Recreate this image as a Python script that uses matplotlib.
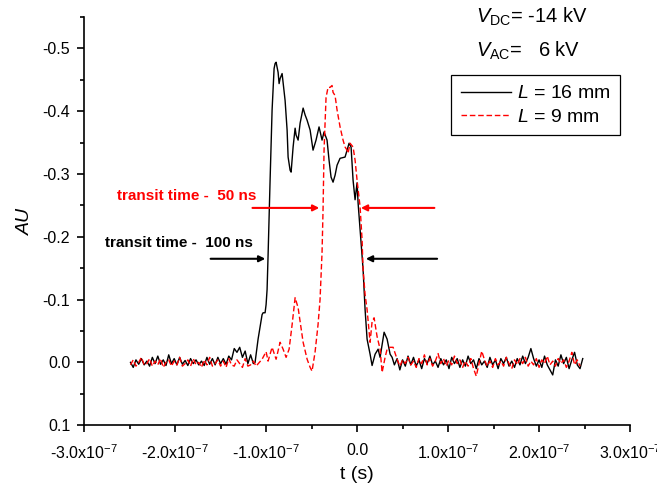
import numpy as np
import matplotlib
matplotlib.use('Agg')
import matplotlib.pyplot as plt
from matplotlib.ticker import MultipleLocator, FuncFormatter

plt.rcParams['font.family'] = 'Liberation Sans'
plt.rcParams['axes.unicode_minus'] = False
plt.rcParams['mathtext.fontset'] = 'custom'
plt.rcParams['mathtext.rm'] = 'Liberation Sans'
plt.rcParams['mathtext.it'] = 'Liberation Sans:italic'

# L = 16 mm (black), time in ns
blk_pre_t = np.arange(-249, -113, 3)
blk_pre_v = [0.000, 0.008, -0.004, 0.003, -0.006, 0.004, -0.002, 0.006, -0.008, 0.002,
             -0.010, 0.003, -0.004, 0.005, -0.012, 0.002, -0.006, 0.004, -0.008, 0.003,
             -0.003, 0.005, -0.006, 0.002, -0.004, 0.004, -0.002, 0.005, -0.008, 0.003,
             -0.006, 0.004, -0.008, 0.002, -0.006, 0.003, -0.010, -0.004, -0.022, -0.016,
             -0.024, -0.008, -0.018, 0.002, -0.012, 0.002]
blk_pulse_t = [-112.1, -108.8, -106.6, -104.4, -103.3, -101.1, -100.0, -98.9, -97.8, -95.6,
               -93.4, -91.2, -90.1, -89.0, -86.8, -85.7, -84.6, -82.4, -79.1, -76.9,
               -75.8, -73.6, -72.5, -70.3, -68.1, -67.0, -64.8, -62.6, -59.3, -57.1,
               -55.0, -51.6, -48.4, -45.1, -41.8, -38.5, -36.3, -33.0, -30.8, -28.6,
               -26.4, -24.2, -22.0, -18.7, -13.2, -11.0, -8.8, -6.6, -4.4, -2.2,
               0.0, 1.1, 4.4, 6.6, 8.8, 11.0, 14.3, 16.5, 19.8, 23.1,
               25.3, 29.7, 33.0, 36.3, 38.5]
blk_pulse_v = [0.000, -0.037, -0.057, -0.076, -0.079, -0.079, -0.092, -0.116, -0.171, -0.290,
               -0.402, -0.468, -0.476, -0.478, -0.462, -0.444, -0.452, -0.460, -0.417, -0.370,
               -0.327, -0.306, -0.303, -0.343, -0.373, -0.362, -0.354, -0.381, -0.405, -0.394,
               -0.386, -0.370, -0.338, -0.354, -0.375, -0.354, -0.367, -0.354, -0.322, -0.295,
               -0.287, -0.298, -0.314, -0.325, -0.327, -0.338, -0.349, -0.343, -0.290, -0.259,
               -0.286, -0.254, -0.190, -0.148, -0.084, -0.037, -0.013, 0.005, -0.013, -0.021,
               -0.008, -0.048, -0.037, -0.013, -0.008]
blk_post_t = np.arange(41, 249, 3)
blk_post_v = [0.004, -0.006, 0.012, -0.004, 0.006, -0.010, 0.004, -0.008, 0.006, -0.004,
              0.010, -0.006, 0.002, -0.010, 0.004, -0.002, 0.008, -0.006, 0.004, -0.004,
              0.010, -0.008, 0.002, -0.006, 0.008, -0.004, 0.006, -0.010, 0.002, -0.004,
              0.010, -0.006, 0.004, -0.002, 0.008, -0.008, 0.004, -0.004, 0.010, -0.006,
              0.002, -0.008, 0.006, -0.002, 0.008, -0.006, 0.004, -0.010, 0.002, -0.008,
              -0.022, -0.006, 0.006, -0.004, 0.008, -0.010, 0.004, 0.012, 0.020, -0.004,
              0.006, -0.012, 0.002, -0.008, 0.010, -0.004, -0.016, 0.004, 0.010, -0.006]

# L = 9 mm (red dashed)
red_pre_t = np.arange(-249, -110, 3)
red_pre_v = [0.004, -0.004, 0.006, 0.000, -0.008, 0.004, 0.002, -0.006, 0.006, -0.002,
             0.004, -0.006, 0.008, 0.000, -0.004, 0.006, -0.002, 0.004, -0.008, 0.006,
             0.002, -0.004, 0.006, -0.006, 0.004, 0.000, 0.008, -0.004, 0.004, -0.008,
             0.006, 0.002, -0.004, 0.006, -0.002, 0.008, -0.006, 0.004, 0.006, -0.004,
             0.002, 0.008, -0.006, 0.006, 0.004, -0.002, 0.006]
red_pulse_t = [-104.4, -100.0, -97.8, -93.4, -89.0, -84.6, -81.3, -78.0, -74.7, -71.4,
               -68.1, -64.8, -62.6, -59.3, -54.9, -51.6, -49.5, -46.2, -42.9, -40.7,
               -38.5, -37.4, -36.3, -34.1, -31.9, -29.7, -27.5, -26.4, -24.2, -22.0,
               -18.7, -15.4, -13.2, -11.0, -9.9, -7.7, -4.4, -2.2, 0.0, 3.3,
               5.5, 6.6, 8.8, 11.0, 14.3, 16.5, 18.7, 22.0, 25.3, 27.5,
               30.8, 33.0, 36.3, 39.6, 44.0]
red_pulse_v = [-0.005, -0.017, -0.002, -0.024, -0.005, -0.032, -0.021, -0.008, -0.021, -0.060,
               -0.103, -0.087, -0.065, -0.032, -0.005, 0.008, 0.014, -0.016, -0.060, -0.100,
               -0.175, -0.243, -0.338, -0.422, -0.438, -0.438, -0.441, -0.430, -0.425, -0.402,
               -0.375, -0.354, -0.343, -0.338, -0.333, -0.349, -0.343, -0.322, -0.290, -0.248,
               -0.195, -0.148, -0.108, -0.084, -0.032, -0.065, -0.071, -0.041, -0.021, 0.016,
               -0.008, -0.021, -0.024, -0.024, -0.005]
red_post_t = np.arange(47, 246, 3)
red_post_v = [0.006, -0.004, 0.002, -0.008, 0.004, -0.002, 0.008, -0.006, 0.002, -0.012,
              0.004, -0.006, 0.006, -0.002, -0.014, 0.002, -0.006, 0.006, -0.004, 0.004,
              -0.010, 0.002, -0.004, 0.008, -0.002, 0.006, -0.006, 0.010, 0.022, 0.002,
              -0.018, -0.004, 0.006, -0.002, 0.008, -0.006, 0.004, -0.002, 0.006, -0.008,
              0.002, 0.010, -0.004, 0.004, -0.006, 0.002, -0.008, 0.006, -0.002, 0.004,
              -0.006, 0.008, -0.004, 0.002, -0.010, 0.004, -0.002, 0.006, -0.006, 0.002,
              -0.004, 0.008, -0.002, -0.016, 0.004, -0.004, 0.006]

t16 = np.concatenate([blk_pre_t, blk_pulse_t, blk_post_t]) * 1e-9
v16 = np.concatenate([blk_pre_v, blk_pulse_v, blk_post_v])
t9 = np.concatenate([red_pre_t, red_pulse_t, red_post_t]) * 1e-9
v9 = np.concatenate([red_pre_v, red_pulse_v, red_post_v])

fig = plt.figure(figsize=(6.57, 4.87), dpi=100)
ax = fig.add_axes([0.128, 0.127, 0.831, 0.838])

ax.plot(t16, v16, '-', color='black', lw=1.0, label='$L$ = 16 mm')
ax.plot(t9, v9, '--', color='#ff0000', lw=1.0, dashes=(4, 2), label='$L$ = 9 mm')

ax.set_xlim(-3e-7, 3e-7)
ax.set_ylim(0.1, -0.55)
ax.xaxis.set_major_locator(MultipleLocator(1e-7))
ax.xaxis.set_minor_locator(MultipleLocator(0.5e-7))
ax.yaxis.set_major_locator(MultipleLocator(0.1))
ax.yaxis.set_minor_locator(MultipleLocator(0.05))


def xfmt(x, pos):
    if abs(x) < 1e-12:
        return '0.0'
    return '%.1fx10$^{-7}$' % (x / 1e-7)


ax.xaxis.set_major_formatter(FuncFormatter(xfmt))
ax.yaxis.set_major_formatter(FuncFormatter(lambda y, p: '%.1f' % (0.0 if abs(y) < 1e-9 else y)))

for s in ['top', 'right']:
    ax.spines[s].set_visible(False)
for s in ['left', 'bottom']:
    ax.spines[s].set_linewidth(1.2)
ax.tick_params(which='major', direction='out', length=5, width=1.2, labelsize=11.5)
ax.tick_params(axis='x', which='major', pad=8)
ax.tick_params(axis='y', which='major', pad=5)
ax.tick_params(which='minor', direction='out', length=3, width=1.2)

ax.set_xlabel('t (s)', fontsize=14, labelpad=3)
ax.set_ylabel('AU', fontsize=14, style='italic', labelpad=6)

# transit time arrows
ax.annotate('', xy=(-0.385e-7, -0.246), xytext=(-1.18e-7, -0.246),
            arrowprops=dict(arrowstyle='-|>', color='#ff0000', lw=1.5, mutation_scale=9))
ax.annotate('', xy=(0.011e-7, -0.246), xytext=(0.88e-7, -0.246),
            arrowprops=dict(arrowstyle='-|>', color='#ff0000', lw=1.5, mutation_scale=9))
ax.annotate('', xy=(-0.978e-7, -0.165), xytext=(-1.64e-7, -0.165),
            arrowprops=dict(arrowstyle='-|>', color='black', lw=1.5, mutation_scale=9))
ax.annotate('', xy=(0.066e-7, -0.165), xytext=(0.91e-7, -0.165),
            arrowprops=dict(arrowstyle='-|>', color='black', lw=1.5, mutation_scale=9))
ax.text(-2.64e-7, -0.265, 'transit time -  50 ns', color='#ff0000', fontsize=11,
        fontweight='bold', va='center', ha='left')
ax.text(-2.77e-7, -0.19, 'transit time -  100 ns', color='black', fontsize=11,
        fontweight='bold', va='center', ha='left')

ax.text(0.718, 1.0, '$V_{\\mathrm{DC}}$= -14 kV', transform=ax.transAxes,
        fontsize=14.5, va='center', ha='left')
ax.text(0.718, 0.917, '$V_{\\mathrm{AC}}$=   6 kV', transform=ax.transAxes,
        fontsize=14.5, va='center', ha='left')

leg = ax.legend(loc='upper right', bbox_to_anchor=(0.982, 0.858), fontsize=14,
                handlelength=2.6, fancybox=False, edgecolor='black', framealpha=1,
                borderpad=0.5, labelspacing=0.3, handletextpad=0.3, borderaxespad=0)
leg.get_frame().set_linewidth(0.9)

fig.savefig('out.png', dpi=100)
